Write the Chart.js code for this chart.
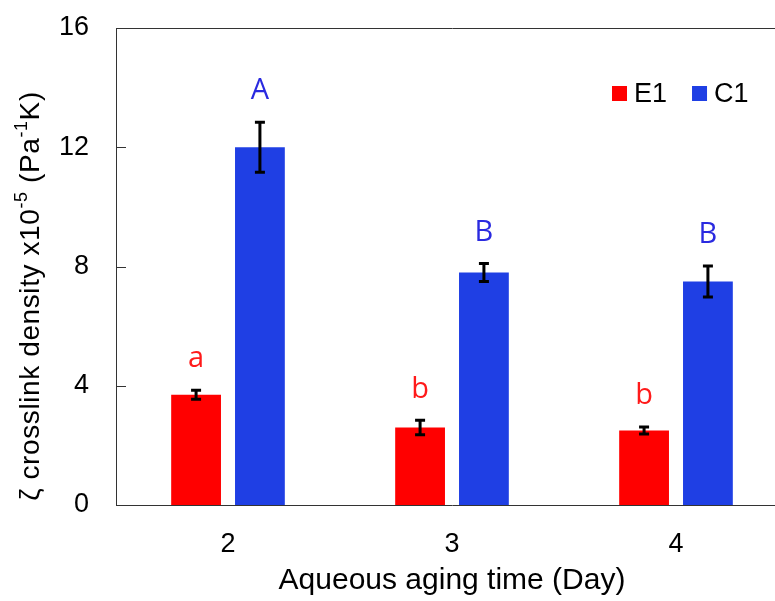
<!DOCTYPE html>
<html>
<head>
<meta charset="utf-8">
<script src="https://cdn.jsdelivr.net/npm/chart.js@4"></script>
<style>
  html, body { margin: 0; padding: 0; background: #fff; overflow: hidden; }
  #wrap { width: 800px; height: 601px; }
</style>
</head>
<body>
<div id="wrap"><canvas id="myChart" width="800" height="601"></canvas></div>
<script>
var days = ["2", "3", "4"];
var e1Values = [3.7, 2.6, 2.5];
var e1Errors = [0.15, 0.24, 0.12];
var e1Letters = ["a", "b", "b"];
var c1Values = [12.0, 7.8, 7.5];
var c1Errors = [0.84, 0.3, 0.52];
var c1Letters = ["A", "B", "B"];
var yTicks = [0, 4, 8, 12, 16];

var red = "#ff0000";
var blue = "#1f3fe4";
var fontName = "'Liberation Sans', Arial";

// error bars, significance letters, legend, inward y ticks, y title with superscripts
var extras = {
  id: 'extras',
  afterDatasetsDraw: function(chart) {
    var ctx = chart.ctx;
    var y = chart.scales.y;
    var area = chart.chartArea;
    var errs = [e1Errors, c1Errors];
    var lets = [e1Letters, c1Letters];
    var cols = ["#ff1a1a", "#2a2ae0"];
    ctx.save();
    chart.data.datasets.forEach(function(ds, i) {
      var meta = chart.getDatasetMeta(i);
      meta.data.forEach(function(bar, j) {
        var v = ds.data[j];
        var top = y.getPixelForValue(v + errs[i][j]);
        var bot = y.getPixelForValue(v - errs[i][j]);
        ctx.strokeStyle = "#000";
        ctx.lineWidth = 3;
        ctx.beginPath();
        ctx.moveTo(bar.x, top); ctx.lineTo(bar.x, bot);
        ctx.moveTo(bar.x - 5, top); ctx.lineTo(bar.x + 5, top);
        ctx.moveTo(bar.x - 5, bot); ctx.lineTo(bar.x + 5, bot);
        ctx.stroke();
        ctx.fillStyle = cols[i];
        ctx.font = "29px 'Open Sans'";
        ctx.textAlign = "center";
        ctx.textBaseline = "middle";
        ctx.fillText(lets[i][j], bar.x, top - 31);
      });
    });

    // legend inside the plot, top right
    ctx.font = "27px " + fontName;
    ctx.textAlign = "left";
    ctx.textBaseline = "middle";
    var lx = area.right - 176;
    var ly = 94;
    chart.data.datasets.forEach(function(ds) {
      ctx.fillStyle = ds.backgroundColor;
      ctx.fillRect(lx, ly - 8, 15, 15);
      ctx.fillStyle = "#000";
      ctx.fillText(ds.label, lx + 22, ly + 1);
      lx += 22 + ctx.measureText(ds.label).width + 25;
    });

    // inward tick marks on the y axis
    ctx.strokeStyle = "#333";
    ctx.lineWidth = 1;
    yTicks.forEach(function(t) {
      var py = Math.round(y.getPixelForValue(t)) + 0.5;
      ctx.beginPath();
      ctx.moveTo(area.left, py); ctx.lineTo(area.left + 10, py);
      ctx.stroke();
    });

    // y axis title
    ctx.translate(31, 296);
    ctx.rotate(-Math.PI / 2);
    ctx.fillStyle = "#000";
    ctx.textBaseline = "middle";
    ctx.letterSpacing = "0.6px";
    var parts = [
      ["ζ crosslink density x10", 28, 0],
      ["-5", 18, -9],
      [" (Pa", 28, 0],
      ["-1", 18, -9],
      ["K)", 28, 0]
    ];
    var total = 0;
    parts.forEach(function(p) {
      ctx.font = p[1] + "px " + fontName;
      total += ctx.measureText(p[0]).width;
    });
    var x = -total / 2;
    ctx.textAlign = "left";
    parts.forEach(function(p) {
      ctx.font = p[1] + "px " + fontName;
      ctx.fillText(p[0], x, p[2]);
      x += ctx.measureText(p[0]).width;
    });
    ctx.restore();
  }
};

var ctx = document.getElementById("myChart");
new Chart(ctx, {
  type: 'bar',
  data: {
    labels: days,
    datasets: [{
      label: 'E1',
      backgroundColor: red,
      data: e1Values,
      categoryPercentage: 0.57,
      barPercentage: 0.78
    }, {
      label: 'C1',
      backgroundColor: blue,
      data: c1Values,
      categoryPercentage: 0.57,
      barPercentage: 0.78
    }]
  },
  plugins: [extras],
  options: {
    responsive: false,
    animation: false,
    layout: { padding: { left: 0, right: 12, top: 28, bottom: 0 } },
    plugins: {
      legend: { display: false },
      tooltip: { enabled: false }
    },
    scales: {
      x: {
        afterFit: function(scale) { scale.height = 96; },
        grid: { display: false },
        border: { display: true, color: "#333", width: 1 },
        ticks: {
          color: "#000",
          padding: 15,
          font: { family: fontName, size: 27 }
        },
        title: {
          display: true,
          text: 'Aqueous aging time (Day)',
          color: "#000",
          padding: { top: 0, bottom: 2 },
          font: { family: fontName, size: 30 }
        }
      },
      xTop: {
        position: 'top',
        afterFit: function(scale) { scale.height = 0; },
        grid: { display: false, drawTicks: false },
        border: { display: true, color: "#333", width: 1 },
        ticks: { display: false }
      },
      y: {
        min: 0,
        max: 16,
        afterFit: function(scale) {
          scale.width = 116;
          scale.paddingTop = 0;
          scale.paddingBottom = 0;
        },
        afterBuildTicks: function(scale) {
          scale.ticks = yTicks.map(function(v) { return { value: v }; });
        },
        grid: { display: false },
        border: { display: true, color: "#333", width: 1 },
        ticks: {
          color: "#000",
          padding: 19,
          font: { family: fontName, size: 27 }
        }
      }
    }
  }
});
</script>
</body>
</html>
